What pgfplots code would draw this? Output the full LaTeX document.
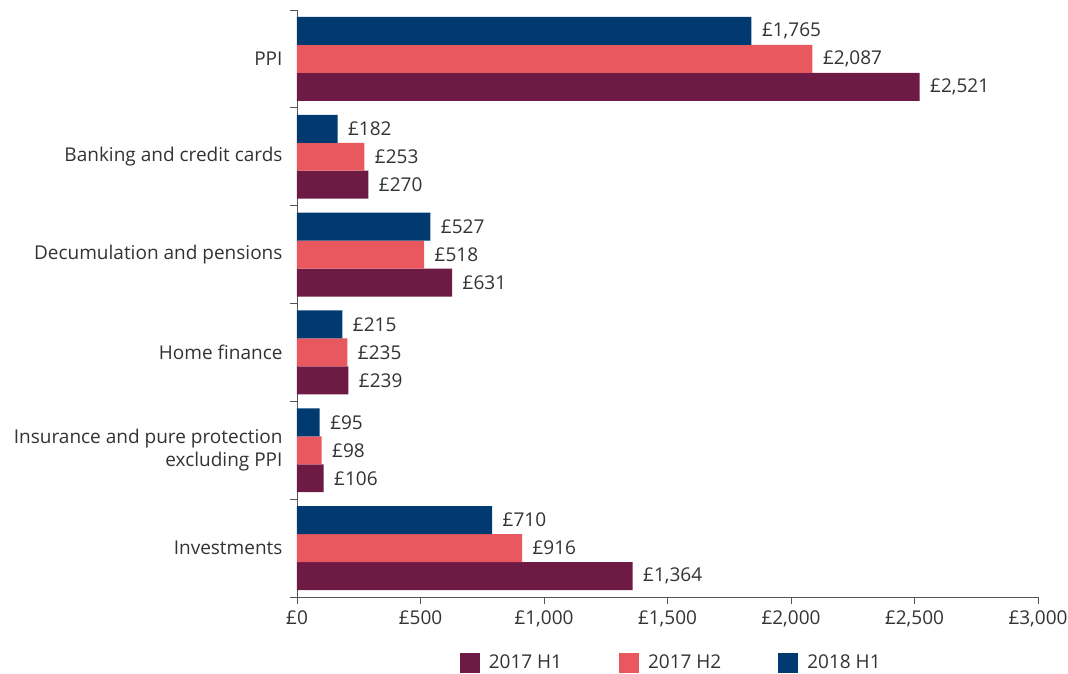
\documentclass[border=0pt]{standalone}
\usepackage{fontspec}
\setmainfont{Open Sans}
\usepackage{pgfplots}
\pgfplotsset{compat=1.18}
\usepackage{pgfplotstable}
\definecolor{navy}{HTML}{003A70}
\definecolor{coral}{HTML}{E9585E}
\definecolor{maroon}{HTML}{6D1A45}
\definecolor{txt}{HTML}{333333}
\definecolor{axisgrey}{HTML}{555555}

\pgfplotstableread{
y v l
0 2521 £2,521
1 289 £270
2 628 £631
3 208 £239
4 108 £106
5 1359 £1,364
}\hone
\pgfplotstableread{
y v l
0 2087 £2,087
1 273 £253
2 515 £518
3 204 £235
4 100 £98
5 911 £916
}\htwo
\pgfplotstableread{
y v l
0 1840 £1,765
1 164 £182
2 540 £527
3 184 £215
4 92 £95
5 790 £710
}\hthree

\newcommand{\lfont}{\fontsize{19}{23}\selectfont}

\begin{document}
\begin{tikzpicture}
\begin{axis}[name=ax, scale only axis, width=741pt, height=587pt,
  xbar, bar width=0.286,
  xmin=0, xmax=3000, ymin=-0.5, ymax=5.5, y dir=reverse,
  axis x line*=bottom, axis y line*=left,
  xtick={0,500,...,3000},
  xticklabels={£0,£500,{£1,000},{£1,500},{£2,000},{£2,500},{£3,000}},
  ytick={0,...,5},
  yticklabels={PPI,Banking and credit cards,Decumulation and pensions,Home finance,{Insurance and pure protection\\excluding PPI},Investments},
  minor ytick={-0.5,0.5,...,5.5},
  tick align=outside, major tick length=7pt, minor tick length=7pt,
  axis line style={axisgrey, line width=0.8pt},
  every tick/.style={axisgrey, line width=0.8pt},
  major y tick style={draw=none},
  ticklabel style={font=\lfont, text=txt},
  yticklabel style={align=right, xshift=-4pt},
  xticklabel style={yshift=-3pt},
  point meta=explicit symbolic,
  nodes near coords,
  nodes near coords style={font=\lfont, text=txt, anchor=west, xshift=7pt},
  legend columns=3,
  legend style={draw=none, at={(0.505,-0.112)}, anchor=center, font=\lfont, text=txt,
    /tikz/every even column/.append style={column sep=55pt}},
  legend cell align=left,
  sq/.style={draw=none, fill=#1, legend image code/.code={\fill[#1] (0pt,-10pt) rectangle (20pt,10pt);}},
]
\addplot[sq=maroon, bar shift=0.286] table[x=v, y=y, meta=l] {\hone};
\addplot[sq=coral, bar shift=0] table[x=v, y=y, meta=l] {\htwo};
\addplot[sq=navy, bar shift=-0.286] table[x=v, y=y, meta=l] {\hthree};
\legend{\hspace{7pt}2017 H1, \hspace{7pt}2017 H2, \hspace{7pt}2018 H1}
\end{axis}
\pgfresetboundingbox
\path[use as bounding box] ([shift={(-297pt,-76pt)}]ax.south west) rectangle ([shift={(771pt,597pt)}]ax.south west);
\end{tikzpicture}
\end{document}
